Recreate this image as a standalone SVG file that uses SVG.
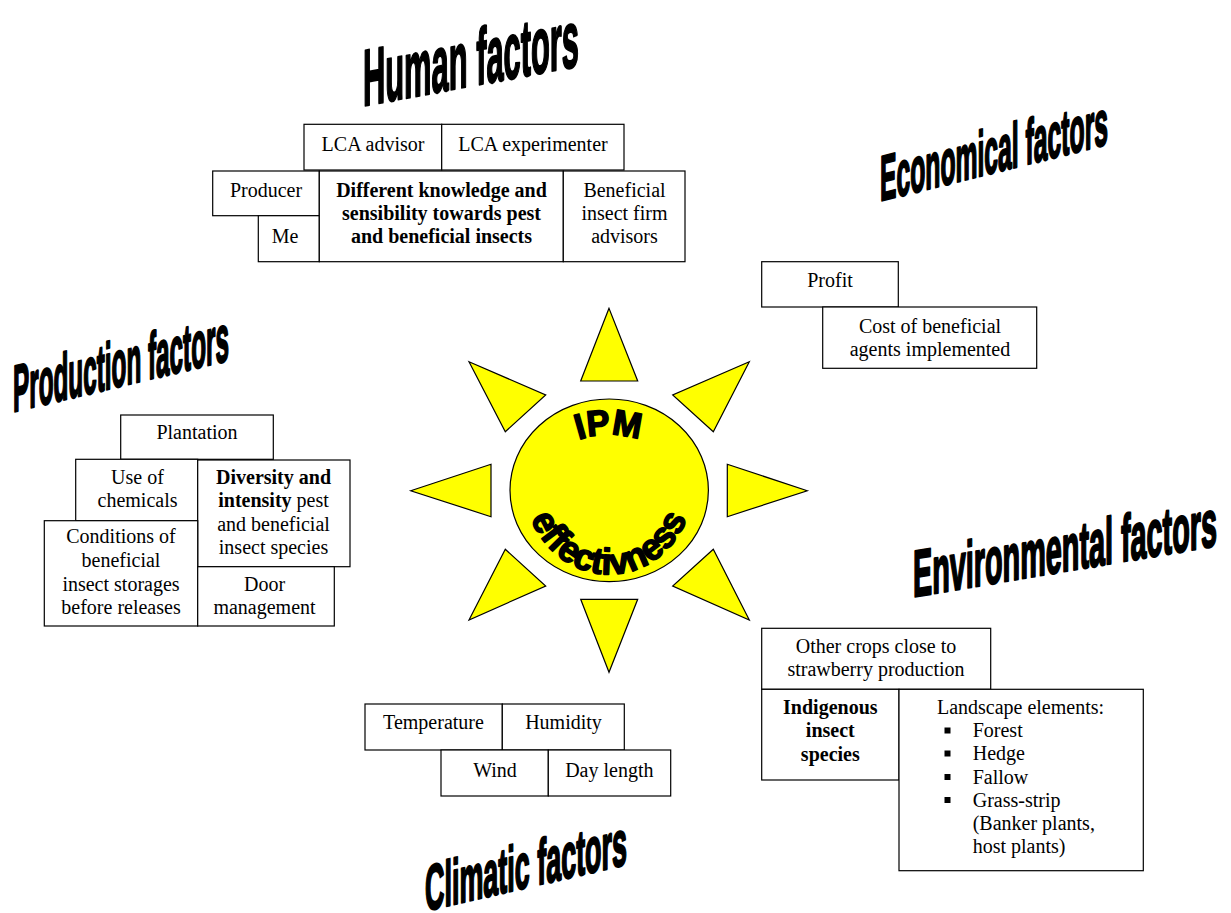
<svg xmlns="http://www.w3.org/2000/svg" width="1231" height="913" viewBox="0 0 1231 913">
  <style>
    .box { fill: #ffffff; stroke: #000000; stroke-width: 1.2; }
    .lbl { font-family: "Liberation Serif", "Times New Roman", serif; font-size: 20px; fill: #000000; text-anchor: middle; }
    .lft { text-anchor: start; }
    .b { font-weight: bold; }
    .wa { font-family: "Liberation Sans", Arial, sans-serif; font-weight: bold; fill: #000000; stroke: #000000; stroke-width: 2.4; stroke-linejoin: round; }
    .ray { fill: #ffff00; stroke: #000000; stroke-width: 1.2; stroke-linejoin: miter; }
    .sunt { font-family: "Liberation Sans", Arial, sans-serif; font-weight: bold; fill: #000000; stroke: #000000; stroke-width: 1.6; stroke-linejoin: round; }
    .bul { fill: #000000; }
  </style>
  <defs>
    <path id="arcTop" d="M 526.7,482.5 A 95 95 0 0 1 691.3,482.5"/>
    <path id="arcBottom" d="M 531,519 A 85 92 0 0 0 687,519"/>
  </defs>

  <rect width="1231" height="913" fill="#ffffff"/>

  <!-- Central sun -->
  <g id="sun">
    <polygon class="ray" points="609,308.3 580.7,381 637.7,381"/>
    <polygon class="ray" points="609,672.3 580.7,599.3 637.7,599.3"/>
    <polygon class="ray" points="410.7,490.7 491,464.3 491,516.7"/>
    <polygon class="ray" points="807.3,490.7 727.3,464.3 727.3,516.7"/>
    <polygon class="ray" points="469,361.7 545.7,395 505.3,431.7"/>
    <polygon class="ray" points="749.3,361.7 672.7,395 713.3,431.7"/>
    <polygon class="ray" points="505.3,549.3 545.7,586 469,620"/>
    <polygon class="ray" points="713.3,549.3 672.7,586 749.3,620"/>
    <ellipse cx="609.2" cy="490.3" rx="99.2" ry="91.3" fill="#ffff00" stroke="#000000" stroke-width="1.2"/>
    <text class="sunt" font-size="36"><textPath href="#arcTop" startOffset="50%" text-anchor="middle" textLength="62" lengthAdjust="spacingAndGlyphs">IPM</textPath></text>
    <text class="sunt" font-size="37"><textPath href="#arcBottom" startOffset="50%" text-anchor="middle" textLength="204" lengthAdjust="spacingAndGlyphs">effectivness</textPath></text>
  </g>

  <!-- Headings -->
  <g id="heading-human"><text class="wa" font-size="80" transform="translate(363,106) skewY(-10.5)" textLength="216" lengthAdjust="spacingAndGlyphs">Human factors</text></g>
  <g id="heading-economical"><text class="wa" font-size="64" transform="translate(880,201) skewY(-14)" textLength="228" lengthAdjust="spacingAndGlyphs">Economical factors</text></g>
  <g id="heading-production"><text class="wa" font-size="66" transform="translate(13,412) skewY(-13.5)" textLength="216" lengthAdjust="spacingAndGlyphs">Production factors</text></g>
  <g id="heading-environmental"><text class="wa" font-size="66" transform="translate(913,597) skewY(-9.6)" textLength="304" lengthAdjust="spacingAndGlyphs">Environmental factors</text></g>
  <g id="heading-climatic"><text class="wa" font-size="64" transform="translate(425,911) skewY(-13)" textLength="202" lengthAdjust="spacingAndGlyphs">Climatic factors</text></g>

  <!-- Human factors -->
  <g id="lca-advisor">
    <rect class="box" x="304" y="124.3" width="137.7" height="45.7"/>
    <text class="lbl" x="373" y="150.7">LCA advisor</text>
  </g>
  <g id="lca-experimenter">
    <rect class="box" x="441.7" y="124.3" width="182.3" height="45.7"/>
    <text class="lbl" x="533" y="150.7">LCA experimenter</text>
  </g>
  <g id="producer">
    <rect class="box" x="212.7" y="171" width="106.6" height="44.7"/>
    <text class="lbl" x="266" y="196.7">Producer</text>
  </g>
  <g id="me">
    <rect class="box" x="258.3" y="215.7" width="61" height="46"/>
    <text class="lbl" x="285" y="243.3">Me</text>
  </g>
  <g id="knowledge">
    <rect class="box" x="319.3" y="171" width="244" height="90.7"/>
    <text class="lbl b" x="441.5" y="196.7">Different knowledge and</text>
    <text class="lbl b" x="441.5" y="220">sensibility towards pest</text>
    <text class="lbl b" x="441.5" y="243.3">and beneficial insects</text>
  </g>
  <g id="firm-advisors">
    <rect class="box" x="563.3" y="171" width="121.7" height="90.7"/>
    <text class="lbl" x="624.5" y="196.7">Beneficial</text>
    <text class="lbl" x="624.5" y="220">insect firm</text>
    <text class="lbl" x="624.5" y="243.3">advisors</text>
  </g>

  <!-- Economical factors -->
  <g id="profit">
    <rect class="box" x="761.7" y="261.7" width="136.6" height="45.3"/>
    <text class="lbl" x="830" y="287.3">Profit</text>
  </g>
  <g id="cost">
    <rect class="box" x="822.7" y="307" width="214" height="61.3"/>
    <text class="lbl" x="930" y="333.3">Cost of beneficial</text>
    <text class="lbl" x="930" y="356">agents implemented</text>
  </g>

  <!-- Production factors -->
  <g id="plantation">
    <rect class="box" x="120.7" y="415" width="152.6" height="44.3"/>
    <text class="lbl" x="197" y="439.3">Plantation</text>
  </g>
  <g id="chemicals">
    <rect class="box" x="75.7" y="459.3" width="122" height="61.4"/>
    <text class="lbl" x="137.5" y="484">Use of</text>
    <text class="lbl" x="137.5" y="507.3">chemicals</text>
  </g>
  <g id="diversity">
    <rect class="box" x="197.7" y="460" width="152.3" height="106.7"/>
    <text class="lbl b" x="273.5" y="484">Diversity and</text>
    <text class="lbl" x="273.5" y="507.3"><tspan class="b">intensity</tspan> pest</text>
    <text class="lbl" x="273.5" y="530.7">and beneficial</text>
    <text class="lbl" x="273.5" y="554">insect species</text>
  </g>
  <g id="storage">
    <rect class="box" x="44.3" y="520.7" width="153.4" height="105.3"/>
    <text class="lbl" x="121" y="543.3">Conditions of</text>
    <text class="lbl" x="121" y="566.7">beneficial</text>
    <text class="lbl" x="121" y="590.7">insect storages</text>
    <text class="lbl" x="121" y="614">before releases</text>
  </g>
  <g id="door">
    <rect class="box" x="197.7" y="566.7" width="136.6" height="59.3"/>
    <text class="lbl" x="264.5" y="590.7">Door</text>
    <text class="lbl" x="264.5" y="614">management</text>
  </g>

  <!-- Environmental factors -->
  <g id="other-crops">
    <rect class="box" x="761.7" y="628.3" width="229" height="61"/>
    <text class="lbl" x="876" y="652.7">Other crops close to</text>
    <text class="lbl" x="876" y="676">strawberry production</text>
  </g>
  <g id="indigenous">
    <rect class="box" x="761.7" y="689.3" width="137.3" height="90.7"/>
    <text class="lbl b" x="830.3" y="714">Indigenous</text>
    <text class="lbl b" x="830.3" y="737.3">insect</text>
    <text class="lbl b" x="830.3" y="760.7">species</text>
  </g>
  <g id="landscape">
    <rect class="box" x="899" y="689.3" width="244.3" height="181.4"/>
    <text class="lbl" x="1020.5" y="714">Landscape elements:</text>
    <rect class="bul" x="944.5" y="727.5" width="6" height="6"/>
    <rect class="bul" x="944.5" y="750.5" width="6" height="6"/>
    <rect class="bul" x="944.5" y="774" width="6" height="6"/>
    <rect class="bul" x="944.5" y="797" width="6" height="6"/>
    <text class="lbl lft" x="972.7" y="737.3">Forest</text>
    <text class="lbl lft" x="972.7" y="760.3">Hedge</text>
    <text class="lbl lft" x="972.7" y="784">Fallow</text>
    <text class="lbl lft" x="972.7" y="806.7">Grass-strip</text>
    <text class="lbl lft" x="972.7" y="829.7">(Banker plants,</text>
    <text class="lbl lft" x="972.7" y="852.7">host plants)</text>
  </g>

  <!-- Climatic factors -->
  <g id="temperature">
    <rect class="box" x="365" y="704" width="137.3" height="46"/>
    <text class="lbl" x="433.5" y="729.3">Temperature</text>
  </g>
  <g id="humidity">
    <rect class="box" x="502.3" y="704" width="122" height="46"/>
    <text class="lbl" x="563.5" y="729.3">Humidity</text>
  </g>
  <g id="wind">
    <rect class="box" x="441" y="750" width="107.3" height="46"/>
    <text class="lbl" x="495" y="776.7">Wind</text>
  </g>
  <g id="day-length">
    <rect class="box" x="548.3" y="750" width="122.4" height="46"/>
    <text class="lbl" x="609.3" y="776.7">Day length</text>
  </g>
</svg>
